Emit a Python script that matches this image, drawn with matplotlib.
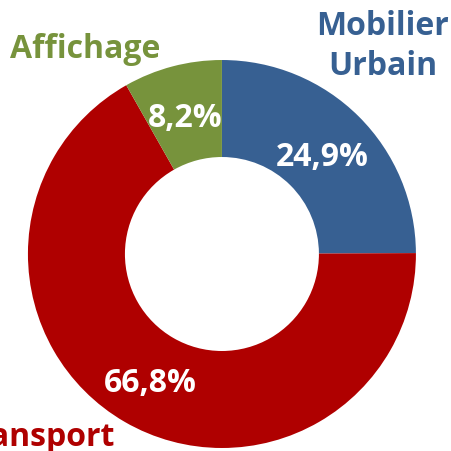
import matplotlib.pyplot as plt

labels = ["Mobilier\nUrbain", "Transport", "Affichage"]
shares = [24.9, 66.8, 8.2]
pct_text = ["24,9%", "66,8%", "8,2%"]
colors = ["#376092", "#AF0000", "#77933C"]

plt.rcParams["font.family"] = ["Open Sans", "DejaVu Sans"]

fig = plt.figure(figsize=(4.52, 4.52), dpi=100)
ax = fig.add_axes([0, 0, 1, 1])

wedges, _ = ax.pie(shares, colors=colors, startangle=90, counterclock=False,
                   radius=1, wedgeprops=dict(width=0.5, linewidth=0))

# percentage labels inside the ring
pct_pos = [(0.515, 0.505), (-0.371, -0.66), (-0.191, 0.706)]
for (x, y), t in zip(pct_pos, pct_text):
    ax.text(x, y, t, color="white", fontsize=23, fontweight="bold",
            ha="center", va="center")

# category labels outside
name_pos = [(0.83, 1.075), (-0.955, -0.94), (-0.706, 1.057)]
for (x, y), t, c in zip(name_pos, labels, colors):
    ax.text(x, y, t, color=c, fontsize=23, fontweight="bold",
            ha="center", va="center", linespacing=1.3)

ax.set_xlim(-1.144, 1.186)
ax.set_ylim(-1.015, 1.314)
ax.set_aspect("equal")
ax.axis("off")

fig.savefig("out.png", dpi=100)
